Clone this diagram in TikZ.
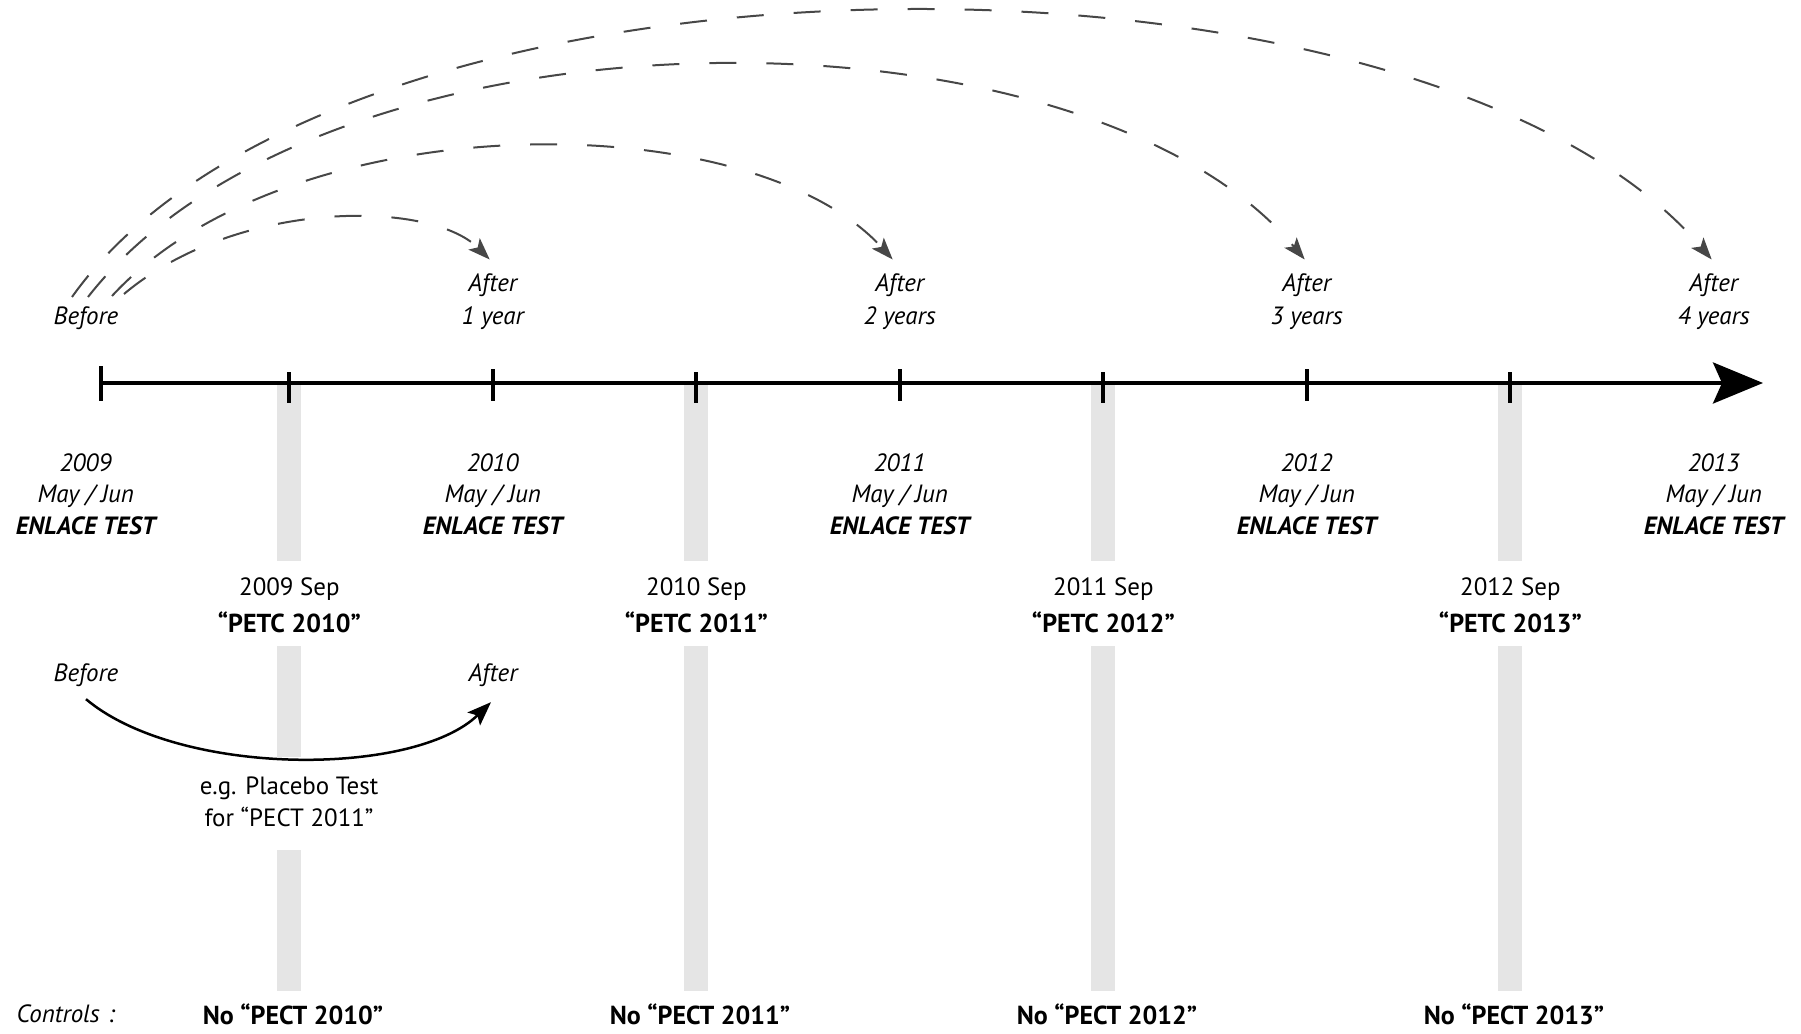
\documentclass[tikz,border=0pt]{standalone}
\usepackage{fontspec}
\setmainfont{PT Sans}
\usetikzlibrary{arrows.meta}

\begin{document}
\begin{tikzpicture}[every node/.style={align=center, inner sep=0pt, font=\fontsize{7.1}{9}\selectfont},
  lbl/.style={font=\fontsize{7.1}{9}\selectfont\itshape},
  bld/.style={font=\fontsize{7.4}{9}\selectfont\bfseries},
  bar/.style={fill=black!10},
  tick/.style={line width=0.4mm},
  arc/.style={draw=black!72, line width=0.2mm, dash pattern=on 2.7mm off 3mm, -{Stealth[length=2.2mm, width=1.6mm, inset=0.5mm]}}]
\useasboundingbox (0,0) rectangle (18.01,10.33);

% grey bars
\foreach \i in {0,...,3} {
  \fill[bar] ({2.774+4.07*\i},6.5) rectangle ({3.014+4.07*\i},4.72);
}
\fill[bar] (2.774,3.87) rectangle (3.014,2.76);
\fill[bar] (2.774,1.83) rectangle (3.014,0.42);
\foreach \i in {1,2,3} {
  \fill[bar] ({2.774+4.07*\i},3.87) rectangle ({3.014+4.07*\i},0.42);
}

% time line
\coordinate (T0) at (1.01,6.5);
\coordinate (T1) at (17.63,6.5);
\draw[line width=0.4mm, -{Stealth[length=5mm, width=4.1mm, inset=0.9mm]}] (T0) -- (T1);
\draw[tick] (1.01,6.32) -- (1.01,6.67);
\foreach \i in {1,2,3} {
  \draw[tick] ({0.857+4.07*\i},6.32) -- ({0.857+4.07*\i},6.64);
}
\foreach \i in {0,...,3} {
  \draw[tick] ({2.894+4.07*\i},6.30) -- ({2.894+4.07*\i},6.61);
}

% labels
\node[lbl] (B0) at (0.86,7.15) {Before};
\foreach \n/\t in {1/1 year,2/2 years,3/3 years,4/4 years} {
  \node[lbl] (A\n) at ({0.857+4.07*\n},7.31) {After\\[0.3pt]\t};
}
\foreach \yr [count=\i from 0] in {2009,2010,2011,2012,2013} {
  \node[lbl] (Y\i) at ({0.857+4.07*\i},5.39) {\yr\\May / Jun\\\textbf{ENLACE TEST}};
}
\foreach \yr [count=\i from 0] in {2009,2010,2011,2012} {
  \pgfmathtruncatemacro{\nx}{\yr+1}
  \node (S\i) at ({2.894+4.07*\i},4.28) {\yr\ Sep\\[1.6pt]{\bfseries\fontsize{7.4}{9}\selectfont “PETC \nx”}};
  \node[bld] (N\i) at ({2.93+4.07*\i},0.19) {No “PECT \nx”};
}
\node[lbl, anchor=west] (ctl) at (0.16,0.19) {Controls\,\,:};

% placebo example
\node[lbl] (pb) at (0.86,3.58) {Before};
\node[lbl] (pa) at (4.93,3.58) {After};
\node (pt) at (2.89,2.31) {e.g. Placebo Test\\for “PECT 2011”};
\draw[line width=0.25mm, -{Stealth[length=2.4mm, width=1.8mm, inset=0.5mm]}] ([yshift=-1.2mm]pb.south) .. controls +(0.93,-0.78) and +(-0.77,-0.75) .. ([xshift=-0.2mm,yshift=-1.5mm]pa.south);

% before / after arcs
\coordinate (s1) at (1.24,7.39);
\coordinate (s2) at (1.12,7.37);
\coordinate (s3) at (0.88,7.36);
\coordinate (s4) at (0.72,7.36);
\draw[arc] (s1) .. controls +(1.13,0.95) and +(-0.60,0.60) .. ([xshift=-0.3mm,yshift=1.4mm]A1.north);
\draw[arc] (s2) .. controls +(1.78,1.93) and +(-1.43,1.57) .. ([xshift=-0.7mm,yshift=1.4mm]A2.north);
\draw[arc] (s3) .. controls +(2.37,3.03) and +(-2.23,2.66) .. ([xshift=-0.2mm,yshift=1.4mm]A3.north);
\draw[arc] (s4) .. controls +(2.67,3.75) and +(-2.89,3.38) .. ([xshift=-0.2mm,yshift=1.4mm]A4.north);
\end{tikzpicture}
\end{document}
